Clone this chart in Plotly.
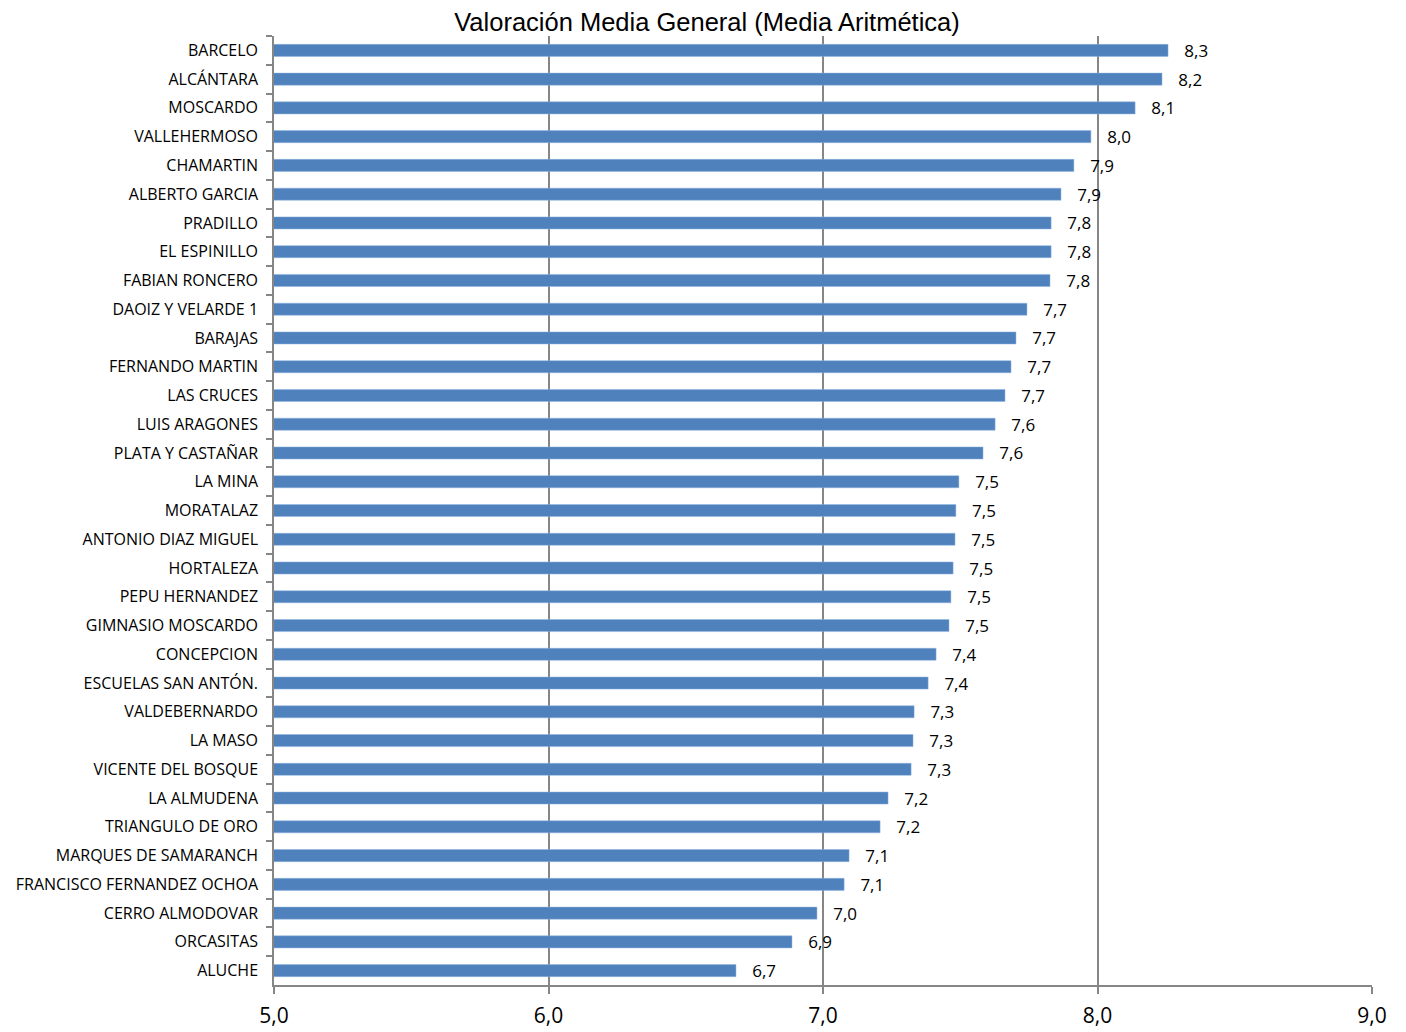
import plotly.graph_objects as go

categories = ["BARCELO", "ALCÁNTARA", "MOSCARDO", "VALLEHERMOSO", "CHAMARTIN",
              "ALBERTO GARCIA", "PRADILLO", "EL ESPINILLO", "FABIAN RONCERO",
              "DAOIZ Y VELARDE 1", "BARAJAS", "FERNANDO MARTIN", "LAS CRUCES",
              "LUIS ARAGONES", "PLATA Y CASTAÑAR", "LA MINA", "MORATALAZ",
              "ANTONIO DIAZ MIGUEL", "HORTALEZA", "PEPU HERNANDEZ",
              "GIMNASIO MOSCARDO", "CONCEPCION", "ESCUELAS SAN ANTÓN.",
              "VALDEBERNARDO", "LA MASO", "VICENTE DEL BOSQUE", "LA ALMUDENA",
              "TRIANGULO DE ORO", "MARQUES DE SAMARANCH",
              "FRANCISCO FERNANDEZ OCHOA", "CERRO ALMODOVAR", "ORCASITAS", "ALUCHE"]
values = [8.257, 8.235, 8.137, 7.976, 7.914, 7.867, 7.831, 7.831, 7.827,
          7.743, 7.703, 7.685, 7.663, 7.627, 7.583, 7.495, 7.484, 7.481,
          7.474, 7.466, 7.459, 7.412, 7.383, 7.332, 7.328, 7.321, 7.237,
          7.208, 7.095, 7.077, 6.978, 6.887, 6.683]
x_ticks = [5, 6, 7, 8, 9]

fig = go.Figure(go.Bar(
    x=values, y=categories, orientation="h",
    marker=dict(color="#4F81BD", line=dict(color="#8EB4E3", width=0.5)),
    texttemplate="   %{x:.1f}", textposition="outside",
    constraintext="none",
    textfont=dict(family="Open Sans, sans-serif", size=17, color="#000"),
    cliponaxis=False,
))

fig.update_layout(
    width=1398, height=1024,
    margin=dict(l=266, r=34, t=28, b=47, autoexpand=False),
    paper_bgcolor="white", plot_bgcolor="white",
    separators=",.",
    bargap=0.58,
    showlegend=False,
    title=dict(text="Valoración Media General (Media Aritmética)",
               x=0.5, xanchor="center", y=0.986, yanchor="middle",
               font=dict(family="Liberation Sans, Arial, sans-serif", size=25.5, color="#000")),
)
fig.update_xaxes(
    range=[5, 9], tickvals=x_ticks, tickformat=".1f",
    showgrid=True, gridcolor="#868686", gridwidth=1.5,
    showline=True, linecolor="#868686", linewidth=1.5,
    ticks="outside", ticklen=7, tickcolor="#868686", tickwidth=1.5,
    tickfont=dict(family="Open Sans, sans-serif", size=21, color="#000"),
    ticklabelstandoff=4, zeroline=False,
)
fig.update_yaxes(
    autorange="reversed", tickson="boundaries",
    showline=True, linecolor="#868686", linewidth=1.5,
    ticks="outside", ticklen=6, tickcolor="#868686", tickwidth=1.5,
    tickfont=dict(family="Open Sans, sans-serif", size=16, color="#000"),
    ticklabelstandoff=11, showgrid=False,
)

fig.write_html("out.html")
